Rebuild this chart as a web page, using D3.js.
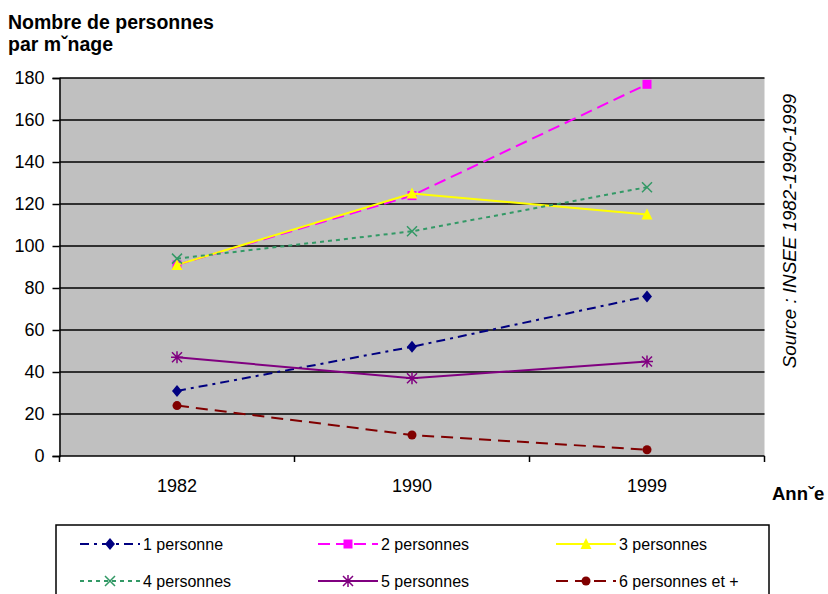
<!DOCTYPE html>
<html><head><meta charset="utf-8">
<script src="https://cdn.jsdelivr.net/npm/d3@7/dist/d3.min.js"></script>
<style>body{margin:0;background:#fff;}svg{display:block;font-family:"Liberation Sans",Arial,sans-serif;}</style>
</head><body><svg id="c" width="828" height="594"></svg>
<script>
const years = ["1982", "1990", "1999"];
const yTicks = [0, 20, 40, 60, 80, 100, 120, 140, 160, 180];
const seriesNames = ["1 personne", "2 personnes", "3 personnes", "4 personnes", "5 personnes", "6 personnes et +"];
const s1 = [31, 52, 76];
const s2 = [91, 124, 177];
const s3 = [91, 125, 115];
const s4 = [94, 107, 128];
const s5 = [47, 37, 45];
const s6 = [24, 10, 3];
const colors = ["#000080", "#FF00FF", "#FFFF00", "#339966", "#800080", "#800000"];
const dashes = ["9,5,3,5", "12,6", null, "4,4", null, "12,7"];
const markers = ["diamond", "square", "triangle", "x", "asterisk", "circle"];
const allSeries = [s1, s2, s3, s4, s5, s6];

(function () {
const svg = d3.select("#c");
const pL = 59.5, pR = 764.5, pT = 78, pB = 456;
const x = d3.scaleBand().domain(years).range([pL, pR]);
const y = d3.scaleLinear().domain([0, 180]).range([pB, pT]);

svg.append("rect").attr("x", pL).attr("y", pT).attr("width", pR - pL).attr("height", pB - pT).attr("fill", "#C0C0C0");

svg.append("g").selectAll("line").data(yTicks.filter(d => d > 0)).join("line")
  .attr("x1", pL).attr("x2", pR).attr("y1", d => y(d)).attr("y2", d => y(d))
  .attr("stroke", "#000").attr("stroke-width", 1.5);

const ya = svg.append("g").attr("transform", `translate(${pL},0)`)
  .call(d3.axisLeft(y).tickValues(yTicks).tickSize(7).tickPadding(8));
ya.select(".domain").attr("stroke", "#000").attr("stroke-width", 1.5);
ya.selectAll(".tick line").attr("stroke", "#000").attr("stroke-width", 1.5);
ya.selectAll("text").attr("font-size", 18).attr("fill", "#000").attr("font-family", "Liberation Sans, Arial, sans-serif");

const xa = svg.append("g").attr("transform", `translate(0,${pB})`)
  .call(d3.axisBottom(x).tickSize(0).tickPadding(23));
xa.select(".domain").remove();
xa.selectAll("text").attr("font-size", 18).attr("fill", "#000").attr("font-family", "Liberation Sans, Arial, sans-serif");
svg.append("line").attr("x1", pL).attr("x2", pR).attr("y1", pB).attr("y2", pB).attr("stroke", "#000").attr("stroke-width", 1.5);
const bounds = [pL, pL + x.bandwidth(), pL + 2 * x.bandwidth(), pR];
svg.append("g").selectAll("line").data(bounds).join("line")
  .attr("x1", d => d).attr("x2", d => d).attr("y1", pB).attr("y2", pB + 6)
  .attr("stroke", "#000").attr("stroke-width", 1.5);

function drawMarker(g, type, cx, cy, color) {
  const s = 5;
  if (type === "diamond") {
    g.append("path").attr("d", `M${cx},${cy - s - 1}L${cx + s},${cy}L${cx},${cy + s + 1}L${cx - s},${cy}Z`).attr("fill", color);
  } else if (type === "square") {
    g.append("rect").attr("x", cx - 4.5).attr("y", cy - 4.5).attr("width", 9).attr("height", 9).attr("fill", color);
  } else if (type === "triangle") {
    g.append("path").attr("d", `M${cx},${cy - 6}L${cx + 5.5},${cy + 5}L${cx - 5.5},${cy + 5}Z`).attr("fill", color);
  } else if (type === "x") {
    g.append("path").attr("d", `M${cx - 5},${cy - 5}L${cx + 5},${cy + 5}M${cx + 5},${cy - 5}L${cx - 5},${cy + 5}`).attr("stroke", color).attr("stroke-width", 1.5);
  } else if (type === "asterisk") {
    g.append("path").attr("d", `M${cx - 5},${cy - 5}L${cx + 5},${cy + 5}M${cx + 5},${cy - 5}L${cx - 5},${cy + 5}M${cx},${cy - 6}L${cx},${cy + 6}M${cx - 6},${cy}L${cx + 6},${cy}`).attr("stroke", color).attr("stroke-width", 1.5);
  } else if (type === "circle") {
    g.append("circle").attr("cx", cx).attr("cy", cy).attr("r", 4.5).attr("fill", color);
  }
}

const line = d3.line().x((d, i) => x(years[i]) + x.bandwidth() / 2).y(d => y(d));
allSeries.forEach((vals, k) => {
  const g = svg.append("g");
  g.append("path").attr("d", line(vals)).attr("fill", "none").attr("stroke", colors[k])
    .attr("stroke-width", 2).attr("stroke-dasharray", dashes[k]);
  vals.forEach((v, i) => drawMarker(g, markers[k], x(years[i]) + x.bandwidth() / 2, y(v), colors[k]));
});

const t = svg.append("text").attr("font-weight", "bold").attr("font-size", 19.5).attr("fill", "#000");
t.append("tspan").attr("x", 8).attr("y", 29).text("Nombre de personnes");
t.append("tspan").attr("x", 8).attr("y", 51).text("par mˇnage");
svg.append("text").attr("x", 772).attr("y", 500).attr("font-weight", "bold").attr("font-size", 18.5).attr("fill", "#000").text("Annˇe");
svg.append("text").attr("transform", "translate(796,231) rotate(-90)").attr("text-anchor", "middle")
  .attr("font-style", "italic").attr("font-size", 18.8).attr("fill", "#000").text("Source : INSEE 1982-1990-1999");

svg.append("rect").attr("x", 56).attr("y", 525).attr("width", 713).attr("height", 90).attr("fill", "#fff").attr("stroke", "#000").attr("stroke-width", 1.5);
const legCols = [80, 318, 556];
const legRows = [544, 581];
seriesNames.forEach((name, k) => {
  const lx = legCols[k % 3], ly = legRows[Math.floor(k / 3)];
  const g = svg.append("g");
  g.append("line").attr("x1", lx).attr("x2", lx + 60).attr("y1", ly).attr("y2", ly).attr("stroke", colors[k]).attr("stroke-width", 2).attr("stroke-dasharray", dashes[k]);
  drawMarker(g, markers[k], lx + 30, ly, colors[k]);
  g.append("text").attr("x", lx + 63).attr("y", ly + 6).attr("font-size", 16).attr("fill", "#000").text(name);
});
})();
</script></body></html>
